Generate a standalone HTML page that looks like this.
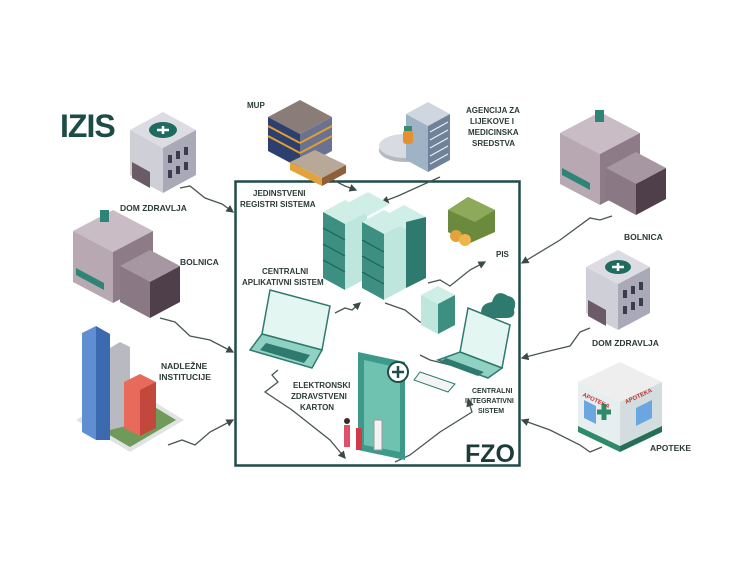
<!DOCTYPE html>
<html><head><meta charset="utf-8"><style>
html,body{margin:0;padding:0;background:#fff;}
svg{display:block;}
text{font-family:"Liberation Sans",sans-serif;font-weight:bold;fill:#2b3b38;}
</style></head><body>
<svg width="750" height="563" viewBox="0 0 750 563" xmlns="http://www.w3.org/2000/svg">
<rect width="750" height="563" fill="#fff"/>
<defs><marker id="ar" markerWidth="6" markerHeight="6" refX="5" refY="3" orient="auto"><path d="M0,0L6,3L0,6z" fill="#3a4a48"/></marker></defs>

<!-- main FZO box -->
<rect x="235.5" y="181.5" width="284" height="284" fill="none" stroke="#1f4b48" stroke-width="2.5"/>

<!-- connectors -->
<g fill="none" stroke="#4a5654" stroke-width="1.3" marker-end="url(#ar)">
<polyline points="180,188 190,186 205,198 222,204 233,212"/>
<polyline points="160,318 175,322 190,336 210,340 233,352"/>
<polyline points="168,445 182,440 195,445 210,432 233,420"/>
<polyline points="333,180 345,186 356,190"/>
<polyline points="440,177 420,186 398,196 382,202"/>
<polyline points="612,216 600,220 590,218 560,240 522,263"/>
<polyline points="590,328 580,332 570,346 545,352 522,358"/>
<polyline points="602,447 590,452 580,445 550,430 522,420"/>
<polyline points="428,283 440,280 450,286 470,270 485,262"/>
<polyline points="335,313 345,308 352,310 360,303"/>
<polyline points="385,303 405,310 420,322 430,323"/>
<polyline points="278,370 272,375 278,382 265,392 292,410 330,440 345,458"/>
<polyline points="395,462 410,455 440,432 472,412 468,400"/>
<polyline points="420,355 430,360 450,365 470,362"/>
</g>

<!-- IZIS -->
<text x="60" y="137" font-size="32" fill="#1d4b46" style="fill:#1d4b46" letter-spacing="-1">IZIS</text>

<!-- Dom zdravlja left -->
<polygon points="163,112 196,130 163,148 130,130" fill="#dcdce2"/>
<polygon points="130,130 163,148 163,193 130,175" fill="#cfcfd8"/>
<polygon points="163,148 196,130 196,175 163,193" fill="#a9a9b8"/>
<ellipse cx="163" cy="130" rx="14" ry="8" fill="#1f6b60"/>
<path d="M157,130h12M163,126v8" stroke="#fff" stroke-width="2.5"/>
<g fill="#3b3b4e"><rect x="168" y="155" width="4" height="8"/><rect x="176" y="151" width="4" height="8"/><rect x="184" y="147" width="4" height="8"/><rect x="168" y="170" width="4" height="8"/><rect x="176" y="166" width="4" height="8"/><rect x="184" y="162" width="4" height="8"/></g>
<polygon points="132,162 150,172 150,188 132,178" fill="#6b5b66"/>
<text x="120" y="211" font-size="8.5">DOM ZDRAVLJA</text>

<!-- MUP -->
<text x="247" y="108" font-size="8">MUP</text>
<polygon points="300,100 332,117 300,134 268,117" fill="#8a7d78"/>
<polygon points="268,117 300,134 300,168 268,151" fill="#2d3f6e"/>
<polygon points="300,134 332,117 332,151 300,168" fill="#6a7290"/>
<g stroke="#e0a030" stroke-width="2"><line x1="268" y1="126" x2="300" y2="143"/><line x1="268" y1="136" x2="300" y2="153"/><line x1="300" y1="143" x2="332" y2="126"/><line x1="300" y1="153" x2="332" y2="136"/></g>
<polygon points="315,150 346,165 322,178 290,162" fill="#b8a898"/>
<polygon points="290,162 322,178 322,186 290,170" fill="#e3a23b"/>
<polygon points="322,178 346,165 346,173 322,186" fill="#8f5f3a"/>

<!-- Agencija -->
<ellipse cx="405" cy="150" rx="26" ry="12" fill="#b4b8c2"/>
<ellipse cx="405" cy="146" rx="26" ry="12" fill="#d8dbe2"/>
<polygon points="428,102 450,114 428,126 406,114" fill="#cfd6df"/>
<polygon points="406,114 428,126 428,172 406,160" fill="#9fb3c7"/>
<polygon points="428,126 450,114 450,160 428,172" fill="#6f8299"/>
<g stroke="#e8eef5" stroke-width="1.2"><line x1="430" y1="132" x2="448" y2="122"/><line x1="430" y1="140" x2="448" y2="130"/><line x1="430" y1="148" x2="448" y2="138"/><line x1="430" y1="156" x2="448" y2="146"/><line x1="430" y1="164" x2="448" y2="154"/></g>
<rect x="403" y="130" width="10" height="14" rx="3" fill="#e6912f"/>
<rect x="404" y="126" width="8" height="5" fill="#3d8b6e"/>
<text font-size="8"><tspan x="466" y="113">AGENCIJA ZA</tspan><tspan x="470" y="124">LIJEKOVE I</tspan><tspan x="468" y="135">MEDICINSKA</tspan><tspan x="472" y="146">SREDSTVA</tspan></text>

<!-- Bolnica right -->
<polygon points="600,112 640,133 600,154 560,133" fill="#c9bcc4"/>
<polygon points="560,133 600,154 600,205 560,184" fill="#b7a8b2"/>
<polygon points="600,154 640,133 640,184 600,205" fill="#8d7c88"/>
<rect x="595" y="110" width="9" height="12" fill="#2f8478"/>
<polygon points="636,152 666,168 636,184 606,168" fill="#a797a2"/>
<polygon points="606,168 636,184 636,215 606,199" fill="#8a7884"/>
<polygon points="636,184 666,168 666,199 636,215" fill="#4e3f4a"/>
<polygon points="562,168 590,183 590,190 562,175" fill="#2f8478"/>
<text x="624" y="240" font-size="8.5">BOLNICA</text>

<!-- Bolnica left -->
<polygon points="113,210 153,231 113,252 73,231" fill="#c9bcc4"/>
<polygon points="73,231 113,252 113,303 73,282" fill="#b7a8b2"/>
<polygon points="113,252 153,231 153,282 113,303" fill="#8d7c88"/>
<rect x="100" y="210" width="9" height="12" fill="#2f8478"/>
<polygon points="150,250 180,266 150,282 120,266" fill="#a797a2"/>
<polygon points="120,266 150,282 150,318 120,302" fill="#8a7884"/>
<polygon points="150,282 180,266 180,302 150,318" fill="#4e3f4a"/>
<polygon points="76,268 104,283 104,290 76,275" fill="#2f8478"/>
<text x="180" y="265" font-size="8.5">BOLNICA</text>

<!-- Dom zdravlja right -->
<polygon points="618,250 650,267 618,284 586,267" fill="#dcdce2"/>
<polygon points="586,267 618,284 618,330 586,313" fill="#cfcfd8"/>
<polygon points="618,284 650,267 650,313 618,330" fill="#a9a9b8"/>
<ellipse cx="618" cy="267" rx="13" ry="7" fill="#1f6b60"/>
<path d="M612,267h12M618,263v8" stroke="#fff" stroke-width="2.5"/>
<g fill="#3b3b4e"><rect x="623" y="290" width="4" height="8"/><rect x="631" y="286" width="4" height="8"/><rect x="639" y="282" width="4" height="8"/><rect x="623" y="306" width="4" height="8"/><rect x="631" y="302" width="4" height="8"/><rect x="639" y="298" width="4" height="8"/></g>
<polygon points="588,300 606,310 606,326 588,316" fill="#6b5b66"/>
<text x="592" y="346" font-size="8.5">DOM ZDRAVLJA</text>

<!-- Nadlezne institucije -->
<polygon points="130,387 184,420 130,452 76,420" fill="#dfe3e2"/>
<polygon points="130,392 176,420 130,447 84,420" fill="#6f9a5a"/>
<polygon points="82,333 96,326 96,440 82,432" fill="#5f8fd0"/>
<polygon points="96,326 110,334 110,440 96,440" fill="#3c6ab0"/>
<polygon points="110,348 120,342 130,347 130,425 110,430" fill="#b9b9c2"/>
<polygon points="124,382 140,374 156,382 156,428 140,436 124,428" fill="#e86a5a"/>
<polygon points="140,390 156,382 156,428 140,436" fill="#c2473c"/>
<text font-size="8.5"><tspan x="161" y="369">NADLEŽNE</tspan><tspan x="159" y="380">INSTITUCIJE</tspan></text>

<!-- Apoteke -->
<polygon points="620,362 662,382 620,402 578,382" fill="#eeeeee"/>
<polygon points="578,382 620,402 620,446 578,426" fill="#e7eef0"/>
<polygon points="620,402 662,382 662,426 620,446" fill="#d3dcdf"/>
<polygon points="578,426 620,446 620,452 578,432" fill="#2f8a6a"/>
<polygon points="620,446 662,426 662,432 620,452" fill="#246f55"/>
<g fill="#6aa7e0"><polygon points="584,400 596,406 596,424 584,418"/><polygon points="636,408 652,400 652,418 636,426"/></g>
<path d="M604,404v16M597,412h14" stroke="#2f8a6a" stroke-width="5"/>
<text x="582" y="396" font-size="6" style="fill:#c8332b" transform="rotate(25 582 396)">APOTEKA</text>
<text x="626" y="404" font-size="6" style="fill:#c8332b" transform="rotate(-25 626 404)">APOTEKA</text>
<text x="650" y="451" font-size="8.5">APOTEKE</text>

<!-- servers -->
<g>
<polygon points="345,200 367,212 345,224 323,212" fill="#cfeee6"/>
<polygon points="323,212 345,224 345,290 323,278" fill="#3d8f82"/>
<polygon points="345,224 367,212 367,278 345,290" fill="#bfe6dc"/>
<polygon points="368,192 390,204 368,216 346,204" fill="#cfeee6"/>
<polygon points="384,210 406,222 384,234 362,222" fill="#cfeee6"/>
<polygon points="362,222 384,234 384,300 362,288" fill="#3d8f82"/>
<polygon points="384,234 406,222 406,288 384,300" fill="#bfe6dc"/>
<polygon points="404,205 426,217 404,229 382,217" fill="#cfeee6"/>
<polygon points="406,222 426,217 426,278 406,288" fill="#2f7a6e"/>
<g stroke="#1f5e55" stroke-width="1"><line x1="323" y1="228" x2="345" y2="240"/><line x1="323" y1="244" x2="345" y2="256"/><line x1="323" y1="260" x2="345" y2="272"/><line x1="362" y1="240" x2="384" y2="252"/><line x1="362" y1="256" x2="384" y2="268"/><line x1="362" y1="272" x2="384" y2="284"/></g>
</g>
<!-- small server -->
<polygon points="438,286 455,295 438,304 421,295" fill="#cfeee6"/>
<polygon points="421,295 438,304 438,334 421,325" fill="#bfe6dc"/>
<polygon points="438,304 455,295 455,325 438,334" fill="#3d8f82"/>
<!-- cloud -->
<path d="M482,318 q-4,-14 10,-16 q4,-14 16,-6 q10,2 6,14 q2,8 -8,8z" fill="#2f7a6e"/>
<!-- PIS money -->
<polygon points="468,197 495,210 495,232 468,244 448,232 448,210" fill="#6c8a3e"/>
<polygon points="468,197 495,210 475,222 448,210" fill="#8caa5a"/>
<circle cx="456" cy="236" r="6" fill="#e3a23b"/><circle cx="465" cy="240" r="6" fill="#f0b44a"/>
<text x="496" y="257" font-size="8">PIS</text>

<!-- left laptop -->
<polygon points="270,290 330,306 322,350 262,334" fill="#e4f6f2" stroke="#2f7a6e" stroke-width="1.5"/>
<polygon points="262,334 322,350 312,368 250,350" fill="#8fd2c4" stroke="#2f7a6e" stroke-width="1.5"/>
<polygon points="266,343 310,355 304,363 260,350" fill="#2f7a6e"/>
<!-- right laptop -->
<polygon points="468,308 510,325 502,368 460,352" fill="#e4f6f2" stroke="#2f7a6e" stroke-width="1.5"/>
<polygon points="460,352 502,368 488,378 438,360" fill="#8fd2c4" stroke="#2f7a6e" stroke-width="1.5"/>
<polygon points="446,358 484,372 478,376 440,362" fill="#2f7a6e"/>
<polygon points="420,372 455,384 448,392 414,380" fill="#f4f4f4" stroke="#2f7a6e"/>

<!-- phone / EHR card -->
<polygon points="358,352 405,362 405,460 358,450" fill="#3d9a8a"/>
<polygon points="364,360 400,368 400,452 364,445" fill="#6fc2b0"/>
<circle cx="398" cy="372" r="10" fill="#fff" stroke="#1f4b48" stroke-width="2"/>
<path d="M392,372h12M398,366v12" stroke="#1f4b48" stroke-width="2.5"/>
<rect x="344" y="425" width="6" height="22" fill="#e0506a"/><circle cx="347" cy="421" r="3" fill="#3a2a2a"/>
<rect x="356" y="428" width="6" height="22" fill="#d23a4a"/>
<rect x="374" y="420" width="8" height="30" fill="#f2f2f2" stroke="#999"/>

<!-- inside labels -->
<text font-size="8"><tspan x="253" y="196">JEDINSTVENI</tspan><tspan x="240" y="207">REGISTRI SISTEMA</tspan></text>
<text font-size="8"><tspan x="262" y="274">CENTRALNI</tspan><tspan x="242" y="285">APLIKATIVNI SISTEM</tspan></text>
<text font-size="8"><tspan x="293" y="388">ELEKTRONSKI</tspan><tspan x="291" y="399">ZDRAVSTVENI</tspan><tspan x="300" y="410">KARTON</tspan></text>
<text font-size="7"><tspan x="472" y="393">CENTRALNI</tspan><tspan x="465" y="403">INTEGRATIVNI</tspan><tspan x="478" y="413">SISTEM</tspan></text>
<text x="465" y="462" font-size="25" style="fill:#1d3b38">FZO</text>
</svg>
</body></html>
